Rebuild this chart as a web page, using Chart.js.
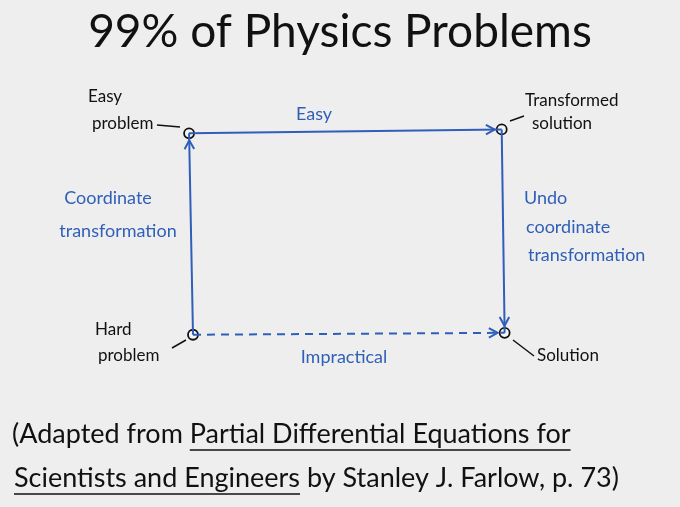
<!DOCTYPE html>
<html><head><meta charset="utf-8">
<script src="https://cdn.jsdelivr.net/npm/chart.js@4"></script>
<style>body{margin:0;background:#eeeeee}#w{width:680px;height:507px}</style>
</head><body><div id="w"><canvas id="c"></canvas></div>
<script>
const nodeNames = ["Easy problem","Transformed solution","Hard problem","Solution"];
const nodeX = [186, 505, 190, 508];
const nodeY = [130, 126, 337, 335];
const edgeFrom = [0, 2, 1, 2];
const edgeTo = [1, 0, 3, 3];
const edgeDashed = [false, false, false, true];
const blue = "#2f5fb8";
const hand = "Lato, 'Open Sans', sans-serif";

const datasets = edgeFrom.map((f,i)=>({
  type:'line', data:[{x:nodeX[f],y:nodeY[f]},{x:nodeX[edgeTo[i]],y:nodeY[edgeTo[i]]}],
  borderColor:blue, borderWidth:2, borderDash: edgeDashed[i]?[8,6]:[], pointRadius:0, fill:false
}));
datasets.push({type:'scatter', data:nodeX.map((x,i)=>({x,y:nodeY[i]})), pointRadius:5,
  pointBackgroundColor:'#f4f4f4', pointBorderColor:'#111', pointBorderWidth:1.8});

function runs(c, parts, x, y){
  // parts: [text, underlined]
  parts.forEach(([t,u])=>{
    const w=c.measureText(t).width;
    c.fillText(t,x,y);
    if(u){ const s=t.length-t.trimStart().length; const sw=c.measureText(t.slice(0,s)).width;
      c.beginPath(); c.moveTo(x+sw,y+16); c.lineTo(x+w,y+16); c.stroke(); }
    x+=w;
  });
}

const deco = {id:'deco', afterDatasetsDraw(ch){
  const c=ch.ctx, xs=ch.scales.x, ys=ch.scales.y;
  c.save();
  edgeFrom.forEach((f,i)=>{
    const t=edgeTo[i];
    const x1=xs.getPixelForValue(nodeX[f]), y1=ys.getPixelForValue(nodeY[f]);
    const x2=xs.getPixelForValue(nodeX[t]), y2=ys.getPixelForValue(nodeY[t]);
    const a=Math.atan2(y2-y1,x2-x1); const ex=x2-7*Math.cos(a), ey=y2-7*Math.sin(a);
    c.strokeStyle=blue; c.lineWidth=2; c.setLineDash([]);
    c.beginPath();
    c.moveTo(ex-10*Math.cos(a-0.5), ey-10*Math.sin(a-0.5)); c.lineTo(ex,ey);
    c.lineTo(ex-10*Math.cos(a+0.5), ey-10*Math.sin(a+0.5)); c.stroke();
  });
  c.fillStyle='#111'; c.textAlign='center'; c.textBaseline='middle';
  c.font="46px "+hand; c.fillText("99% of Physics Problems", 340, 32);
  c.font="17px "+hand;
  c.textAlign='left';
  c.fillText("Easy",88,97); c.fillText("problem",92,124);
  c.fillText("Transformed",525,101); c.fillText("solution",532,124);
  c.fillText("Hard",95,330); c.fillText("problem",98,356);
  c.fillText("Solution",537,356);
  c.lineWidth=1.5; c.strokeStyle='#111';
  c.beginPath(); c.moveTo(157,125);c.lineTo(180,127);
  c.moveTo(172,348);c.lineTo(186,340);
  c.moveTo(513,340);c.lineTo(534,356);
  c.moveTo(510,121);c.lineTo(524,116); c.stroke();
  c.fillStyle=blue; c.font="18px "+hand; c.textAlign='center';
  c.fillText("Easy",314,114); c.fillText("Impractical",344,357);
  c.fillText("Coordinate",108,198); c.fillText("transformation",118,231);
  c.textAlign='left';
  c.fillText("Undo",524,198); c.fillText("coordinate",526,227); c.fillText("transformation",528,255);
  c.fillStyle='#111'; c.font="27px "+hand;
  runs(c,[["(Adapted from ",false],["Partial Differential Equations for",true]],12,434);
  runs(c,[["Scientists and Engineers",true],[" by Stanley J. Farlow, p. 73)",false]],14,478);
  c.restore();
}};

new Chart(document.getElementById('c'),{
  data:{datasets},
  options:{responsive:true, maintainAspectRatio:false, animation:false,
    layout:{padding:0},
    plugins:{legend:{display:false},tooltip:{enabled:false}},
    scales:{x:{type:'linear',min:0,max:680,display:false},
            y:{type:'linear',min:0,max:507,reverse:true,display:false}}},
  plugins:[deco, {id:'bg',beforeDraw(ch){ch.ctx.fillStyle='#eeeeee';ch.ctx.fillRect(0,0,ch.width,ch.height);}}]
});
</script></body></html>
